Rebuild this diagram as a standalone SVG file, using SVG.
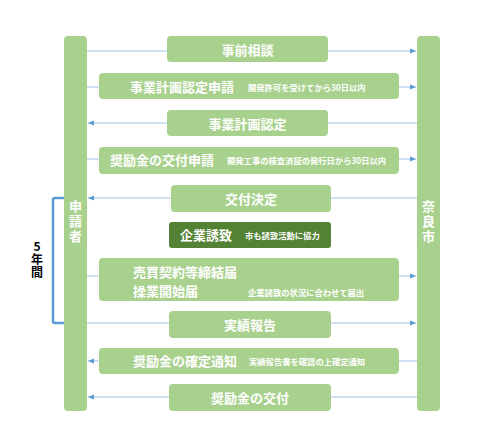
<svg xmlns="http://www.w3.org/2000/svg" width="500" height="447" viewBox="0 0 500 447">
<defs>
<style>
.bar{fill:#A9D18E}
.box{fill:#A9D18E}
.dark{fill:#548235}
.t{font-family:"Noto Sans CJK JP","Noto Sans",sans-serif;font-weight:bold;fill:#fff;font-size:13px;dominant-baseline:central}
.s{font-family:"Noto Sans CJK JP","Noto Sans",sans-serif;font-weight:bold;fill:#fff;font-size:8.3px;dominant-baseline:central}
.v{font-family:"Noto Sans CJK JP","Noto Sans",sans-serif;font-weight:bold;fill:#fff;font-size:13px;text-anchor:middle;writing-mode:vertical-rl;text-orientation:upright;letter-spacing:2px}
.k{font-family:"Noto Sans CJK JP","Noto Sans",sans-serif;font-weight:bold;fill:#000;font-size:12px;text-anchor:middle;writing-mode:vertical-rl;text-orientation:upright;letter-spacing:1px}
.c{stroke:#9DC3E6;stroke-width:1.2;fill:none}
.r{marker-end:url(#ah)}
</style>
<marker id="ah" viewBox="0 0 10 10" refX="10" refY="5" markerWidth="6" markerHeight="6" markerUnits="userSpaceOnUse" orient="auto">
<path d="M0,1 L10,5 L0,9 z" fill="#5B9BD5"/>
</marker>
</defs>
<rect width="500" height="447" fill="#fff"/>
<g id="connectors">
<line class="c r" x1="87" y1="51" x2="416" y2="51"/>
<line class="c r" x1="87" y1="87" x2="416" y2="87"/>
<line class="c r" x1="417" y1="123" x2="88" y2="123"/>
<line class="c r" x1="87" y1="159" x2="416" y2="159"/>
<line class="c r" x1="417" y1="198" x2="88" y2="198"/>
<line class="c r" x1="87" y1="276" x2="416" y2="276"/>
<line class="c r" x1="87" y1="323" x2="416" y2="323"/>
<line class="c r" x1="417" y1="361" x2="88" y2="361"/>
<line class="c r" x1="417" y1="397" x2="88" y2="397"/>
<path id="bracket" d="M64,198 H55 Q53,198 53,200 V321 Q53,323 55,323 H64" fill="none" stroke="#5B9BD5" stroke-width="2.5"/>
</g>
<g id="applicant">
<rect class="bar" x="64" y="36" width="23" height="375" rx="4"/>
<text class="v" x="75.5" y="222">申請者</text>
</g>
<g id="nara">
<rect class="bar" x="417" y="36" width="23" height="375" rx="4"/>
<text class="v" x="428.5" y="222">奈良市</text>
</g>
<g id="period">
<text class="k" x="37" y="260">5年間</text>
</g>
<g id="n1">
<rect class="box" x="167" y="36" width="161" height="26" rx="4"/>
<text class="t" x="247.5" y="49" text-anchor="middle">事前相談</text>
</g>
<g id="n2">
<rect class="box" x="99" y="73" width="300" height="26" rx="4"/>
<text class="t" x="130" y="86">事業計画認定申請</text>
<text class="s" x="248" y="87">開発許可を受けてから30日以内</text>
</g>
<g id="n3">
<rect class="box" x="167" y="110" width="161" height="26" rx="4"/>
<text class="t" x="247.5" y="123" text-anchor="middle">事業計画認定</text>
</g>
<g id="n4">
<rect class="box" x="99" y="147" width="300" height="27" rx="4"/>
<text class="t" x="110" y="159">奨励金の交付申請</text>
<text class="s" x="227" y="160">開発工事の検査済証の発行日から30日以内</text>
</g>
<g id="n5">
<rect class="box" x="171" y="185" width="160" height="27" rx="4"/>
<text class="t" x="251" y="198" text-anchor="middle">交付決定</text>
</g>
<g id="n6">
<rect class="dark" x="169" y="222" width="162" height="26" rx="3"/>
<text class="t" x="180" y="234">企業誘致</text>
<text class="s" x="245" y="235">市も誘致活動に協力</text>
</g>
<g id="n7">
<rect class="box" x="99" y="258" width="300" height="43" rx="4"/>
<text class="t" x="133" y="271">売買契約等締結届</text>
<text class="t" x="133" y="290">操業開始届</text>
<text class="s" x="248" y="292">企業誘致の状況に合わせて届出</text>
</g>
<g id="n8">
<rect class="box" x="169" y="311" width="162" height="27" rx="4"/>
<text class="t" x="250" y="324" text-anchor="middle">実績報告</text>
</g>
<g id="n9">
<rect class="box" x="99" y="348" width="300" height="26" rx="4"/>
<text class="t" x="133" y="360">奨励金の確定通知</text>
<text class="s" x="249" y="361">実績報告書を確認の上確定通知</text>
</g>
<g id="n10">
<rect class="box" x="169" y="384" width="162" height="27" rx="4"/>
<text class="t" x="250" y="397" text-anchor="middle">奨励金の交付</text>
</g>
</svg>
